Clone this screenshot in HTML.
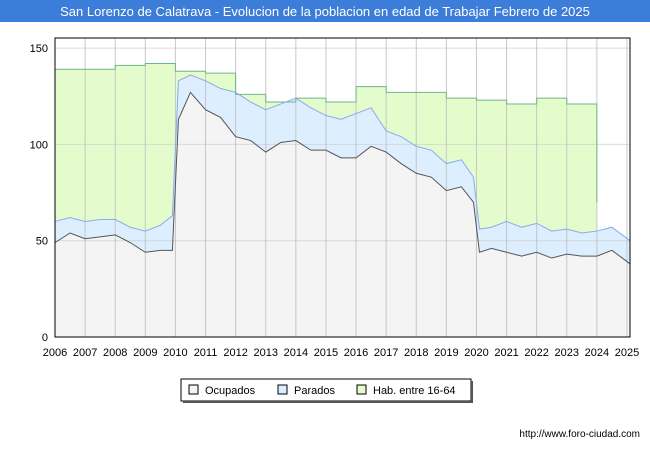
<!DOCTYPE html>
<html><head><meta charset="utf-8"><style>
body{margin:0;background:#fff;font-family:"Liberation Sans",sans-serif}
#wrap{position:relative;width:650px;height:450px;overflow:hidden}
</style></head><body>
<div id="wrap">
<svg id="svg" width="650" height="450" xmlns="http://www.w3.org/2000/svg">
<rect x="0" y="0" width="650" height="22" fill="#3b7dd8"/>
<text x="325" y="16" text-anchor="middle" fill="#fff" font-size="13" font-family="Liberation Sans">San Lorenzo de Calatrava - Evolucion de la poblacion en edad de Trabajar Febrero de 2025</text>
<g id="bg"></g><g id="areas"></g><g id="grid"></g><g id="lines"></g><g id="axes"></g>
<g>
<rect x="181" y="379" width="290" height="22" fill="#fff" stroke="#000" stroke-width="1"/>
<rect x="471" y="381" width="2" height="22" fill="#555"/><rect x="183" y="401" width="290" height="2" fill="#555"/>
<g><rect x="189" y="385" width="9" height="9" fill="#f4f4f4" stroke="#000"/><text x="205" y="394" font-size="11">Ocupados</text></g>
<g><rect x="278" y="385" width="9" height="9" fill="#ddeeff" stroke="#000"/><text x="294" y="394" font-size="11">Parados</text></g>
<g><rect x="357" y="385" width="9" height="9" fill="#e4fccc" stroke="#000"/><text x="373" y="394" font-size="11">Hab. entre 16-64</text></g>
</g>
<text x="640" y="437" text-anchor="end" font-size="10">http://www.foro-ciudad.com</text>
</svg></div>
<script>
const years=[2006,2007,2008,2009,2010,2011,2012,2013,2014,2015,2016,2017,2018,2019,2020,2021,2022,2023];
const hab=[139,139,141,142,138,137,126,122,124,122,130,127,127,124,123,121,124,121];
const times=[2006,2006.5,2007,2007.5,2008,2008.5,2009,2009.5,2009.9,2010.1,2010.5,2011,2011.5,2012,2012.5,2013,2013.5,2014,2014.5,2015,2015.5,2016,2016.5,2017,2017.5,2018,2018.5,2019,2019.5,2019.9,2020.1,2020.5,2021,2021.5,2022,2022.5,2023,2023.5,2024,2024.5,2025.1];
const parados=[60,62,60,61,61,57,55,58,63,133,136,133,129,127,122,118,121,124,119,115,113,116,119,107,104,99,97,90,92,83,56,57,60,57,59,55,56,54,55,57,50];
const ocupados=[49,54,51,52,53,49,44,45,45,113,127,118,114,104,102,96,101,102,97,97,93,93,99,96,90,85,83,76,78,70,44,46,44,42,44,41,43,42,42,45,38];
const yTicks=[0,50,100,150];
const xTicks=[2006,2007,2008,2009,2010,2011,2012,2013,2014,2015,2016,2017,2018,2019,2020,2021,2022,2023,2024,2025];
const X0=55,X1=630,Y0=337,YT=38;
const xs=t=>X0+(t-2006)/(2025.1-2006)*(X1-X0);
const ys=v=>Y0-v*1.926;
const NS="http://www.w3.org/2000/svg";
function mk(tag,attrs,parent){const e=document.createElementNS(NS,tag);for(const k in attrs)e.setAttribute(k,attrs[k]);parent.appendChild(e);return e;}
const bg=document.getElementById('bg'),grid=document.getElementById('grid'),areas=document.getElementById('areas'),lines=document.getElementById('lines'),axes=document.getElementById('axes');
mk('rect',{x:X0,y:YT,width:X1-X0,height:Y0-YT,fill:'#fff'},bg);
yTicks.forEach(v=>{const l=mk('line',{x1:X0,x2:X1,y1:ys(v),y2:ys(v),stroke:'#ccc','stroke-opacity':0.7},grid);


const t=mk('text',{x:X0-7,y:ys(v)+4,'text-anchor':'end','font-size':11},axes);t.textContent=v;

});
xTicks.forEach(y=>{const l=mk('line',{x1:xs(y),x2:xs(y),y1:YT,y2:Y0,stroke:'#bbb','stroke-opacity':0.8},grid);


const t=mk('text',{x:xs(y),y:Y0+19,'text-anchor':'middle','font-size':11},axes);t.textContent=y;

});
let hp=[];years.forEach((y,i)=>{hp.push([xs(y),ys(hab[i])]);hp.push([xs(y+1),ys(hab[i])]);});
const hpts=hp.map(p=>p.join(',')).join(' ');
const ha=mk('polygon',{points:hpts+` ${xs(2024)},${Y0} ${xs(2006)},${Y0}`,fill:'#e4fccc'},areas);


const hl=mk('polyline',{points:hpts+` ${xs(2024)},${ys(70)}`,fill:'none',stroke:'#6fb58a'},lines);


function series(vals,fill,stroke,name){const pts=times.map((t,i)=>xs(t)+','+ys(vals[i])).join(' ');
const a=mk('polygon',{points:pts+` ${xs(times[times.length-1])},${Y0} ${xs(times[0])},${Y0}`,fill:fill},areas);


const l=mk('polyline',{points:pts,fill:'none',stroke:stroke},lines);

}
series(parados,'#ddeeff','#88aaee','parados');
series(ocupados,'#f4f4f4','#555','ocupados');
mk('rect',{x:X0,y:YT,width:X1-X0,height:Y0-YT,fill:'none',stroke:'#000'},axes);
</script>
</body></html>
